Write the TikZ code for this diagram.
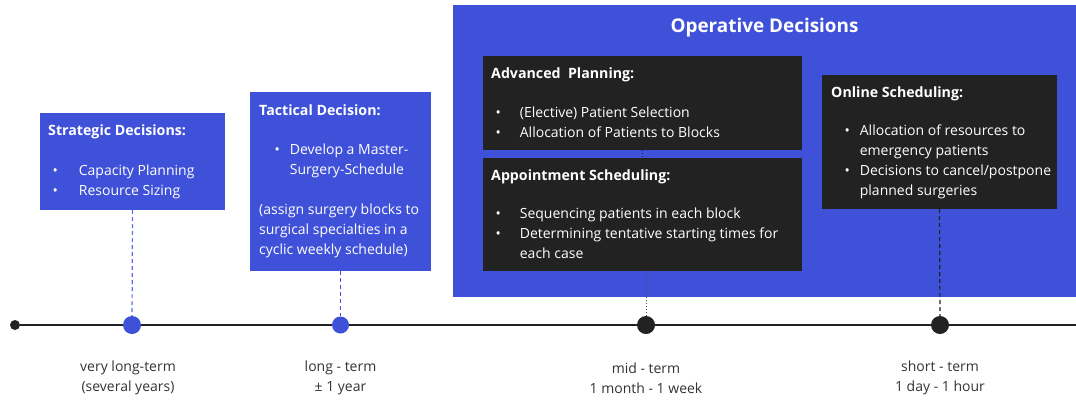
\documentclass[tikz,border=0pt]{standalone}
\usepackage{fontspec}
\setmainfont{Open Sans}
\usetikzlibrary{positioning}

\definecolor{opblue}{HTML}{3F51D8}
\definecolor{darkbox}{HTML}{222222}
\definecolor{dashblue}{HTML}{5D6FE3}
\definecolor{labelgray}{HTML}{333333}

\newcommand{\blist}[2][12pt]{\begin{tabular}{@{}l@{\hspace{#1}}l@{}}#2\end{tabular}}

\begin{document}
\begin{tikzpicture}[x=1pt, y=-1pt, node distance=20pt, on grid, auto]
                \tikzset{
                    panel/.style={fill=#1, draw=none, inner sep=0pt},
                    head/.style={text=white, inner sep=0pt, font=\fontsize{14.2}{19.7}\selectfont\bfseries},
                    items/.style={text=white, inner sep=0pt, align=left, font=\fontsize{14}{19.7}\selectfont},
                    tdot/.style={circle, fill=#1, minimum size=18pt, inner sep=0pt},
                    tlabel/.style={text=labelgray, align=center, font=\fontsize{14}{20}\selectfont},
                    axis/.style={darkbox, line width=2.5pt}
                }
                \useasboundingbox (0,0) rectangle (1076,400);

                % boxes
                \node[panel=opblue, minimum width=623pt, minimum height=292pt] (ops) at (764.5,151) {};
                \node[text=white, inner sep=0pt, font=\fontsize{18.9}{22}\selectfont\bfseries] (opsT) at (764.5,28) {Operative Decisions};

                \node[panel=opblue, minimum width=185pt, minimum height=97pt] (strat) at (132.5,161.5) {};
                \node[panel=opblue, minimum width=181pt, minimum height=179pt] (tact) at (340.5,181.5) {};
                \node[panel=darkbox, minimum width=319pt, minimum height=94pt] (adv) at (642.5,103) {};
                \node[panel=darkbox, minimum width=319pt, minimum height=113pt] (appt) at (642.5,214.5) {};
                \node[panel=darkbox, minimum width=235pt, minimum height=134pt] (online) at (939.5,142) {};

                % texts
                \node[head, anchor=base west] (stratT) at (48,135) {Strategic Decisions:};
                \node[items, anchor=north west] (stratL) at (52.4,162) {\blist[21pt]{\textbullet & Capacity Planning\\ \textbullet & Resource Sizing}};

                \node[head, anchor=base west] (tactT) at (259,115) {Tactical Decision:};
                \node[items, anchor=north west] (tactL) at (274.4,141) {\blist[10pt]{\textbullet & Develop a Master-\\ & Surgery-Schedule}};
                \node[items, anchor=north west] (tactP) at (259,204) {(assign surgery blocks to\\surgical specialties in a\\cyclic weekly schedule)};

                \node[head, anchor=base west] (advT) at (491,78) {Advanced~~Planning:};
                \node[items, anchor=north west] (advL) at (495.4,104) {\blist[19pt]{\textbullet & (Elective) Patient Selection\\ \textbullet & Allocation of Patients to Blocks}};

                \node[head, anchor=base west] (apptT) at (491,180) {Appointment Scheduling:};
                \node[items, anchor=north west] (apptL) at (495.4,205) {\blist[19pt]{\textbullet & Sequencing patients in each block\\ \textbullet & Determining tentative starting times for\\ & each case}};

                \node[head, anchor=base west] (onlineT) at (831,97) {Online Scheduling:};
                \node[items, anchor=north west] (onlineL) at (844.4,122) {\blist[10pt]{\textbullet & Allocation of resources to\\ & emergency patients\\ \textbullet & Decisions to cancel/postpone\\ & planned surgeries}};

                % timeline
                \node[tdot=darkbox, minimum size=10pt] (start) at (15,325) {};
                \node[tdot=opblue] (d1) at (132,325) {};
                \node[tdot=opblue, minimum size=17pt] (d2) at (340.5,325) {};
                \node[tdot=darkbox] (d3) at (646,325) {};
                \node[tdot=darkbox] (d4) at (940,325) {};
                \coordinate (tend) at (1076,325);

                \draw[axis] (start) -- (d1) -- (d2) -- (d3) -- (d4) -- (tend);

                \draw[dashblue, line width=1.2pt, dash pattern=on 4pt off 3pt] (strat.south) -- (d1);
                \draw[opblue, line width=1.2pt, dash pattern=on 4pt off 3pt] (tact.south) -- (d2);
                \draw[darkbox, line width=0.9pt, dotted] (adv.south) -- (appt.north);
                \draw[darkbox!80, line width=0.9pt, dotted] (appt.south -| d3) -- (d3);
                \draw[darkbox, line width=1.2pt, dash pattern=on 4pt off 3pt] (online.south) -- (d4);

                \node[tlabel, below=53pt of d1, xshift=-4pt] (l1) {very long-term\\(several years)};
                \node[tlabel, below=53pt of d2] (l2) {long - term\\± 1 year};
                \node[tlabel, below=53pt of d3] (l3) {mid - term\\1 month - 1 week};
                \node[tlabel, below=53pt of d4] (l4) {short - term\\1 day - 1 hour};

            \end{tikzpicture}
\end{document}
